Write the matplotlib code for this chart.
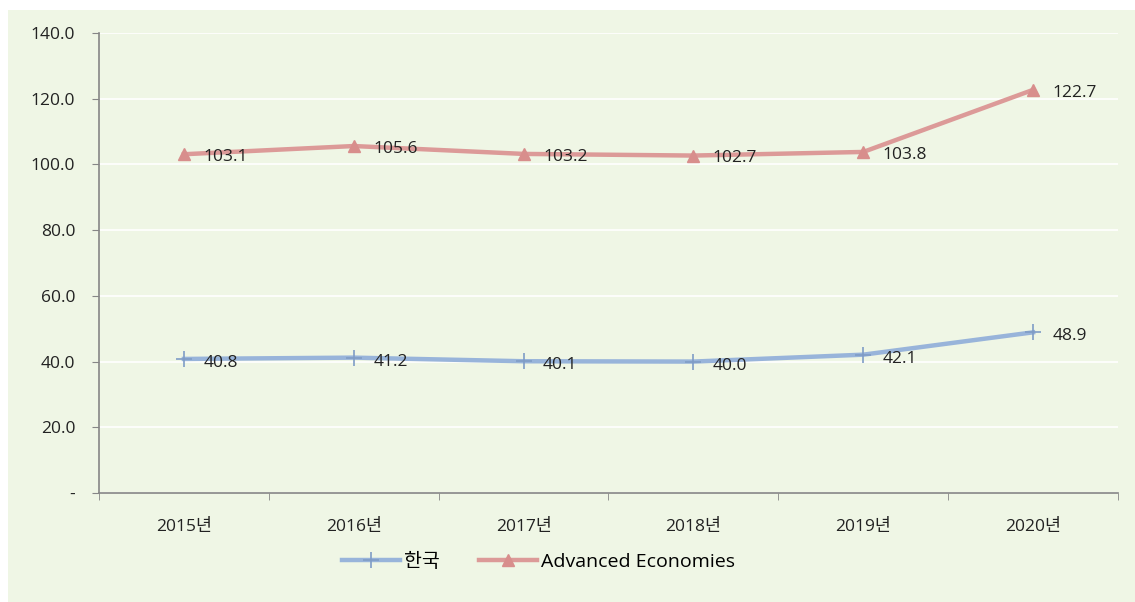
import matplotlib.pyplot as plt
from matplotlib.patches import Rectangle

plt.rcParams['font.family'] = ['Open Sans', 'Noto Sans CJK KR', 'DejaVu Sans']

# 데이터
years = ['2015년', '2016년', '2017년', '2018년', '2019년', '2020년']
korea = [40.8, 41.2, 40.1, 40.0, 42.1, 48.9]
advanced = [103.1, 105.6, 103.2, 102.7, 103.8, 122.7]
yticks = [0, 20, 40, 60, 80, 100, 120, 140]
ytick_labels = ['-', '20.0', '40.0', '60.0', '80.0', '100.0', '120.0', '140.0']

bg = '#eff6e5'
fig = plt.figure(figsize=(11.35, 6.02), dpi=100, facecolor='white')
fig.patches.append(Rectangle((8 / 1135, 0), 1, 1 - 10 / 602, transform=fig.transFigure,
                             facecolor=bg, edgecolor='none', zorder=-1))
ax = fig.add_axes([99 / 1135, 109 / 602, 1019 / 1135, 460 / 602])
ax.set_facecolor(bg)

x = list(range(len(years)))
ax.plot(x, korea, color='#98b4da', lw=3.2, marker='+', ms=11, mew=1.2,
        mec='#7f9cc6', label='한국', zorder=3)
ax.plot(x, advanced, color='#dc9a98', lw=3.2, marker='^', ms=9,
        mec='#d88e8c', mfc='#d88e8c', label='Advanced Economies', zorder=3)

for xi, v in zip(x, korea):
    ax.annotate(f'{v:.1f}', (xi, v), xytext=(14, -3), textcoords='offset points',
                ha='left', va='center', fontsize=12.5, color='#222222')
for xi, v in zip(x, advanced):
    ax.annotate(f'{v:.1f}', (xi, v), xytext=(14, -2), textcoords='offset points',
                ha='left', va='center', fontsize=12.5, color='#222222')

ax.set_xlim(-0.5, len(years) - 0.5)
ax.set_ylim(0, 140)
ax.set_yticks(yticks)
ax.set_yticklabels(ytick_labels)
ax.set_xticks(x)
ax.set_xticklabels(years)
ax.set_xticks([i - 0.5 for i in range(len(years) + 1)], minor=True)
ax.tick_params(axis='x', which='major', length=0, pad=19, labelsize=12.5, labelcolor='#222222')
ax.tick_params(axis='x', which='minor', length=5, color='#868686', direction='out')
ax.tick_params(axis='y', length=5, color='#868686', pad=12, labelsize=12.5, labelcolor='#222222')

ax.grid(axis='y', color='white', lw=1.2)
ax.set_axisbelow(True)
for s in ['top', 'right']:
    ax.spines[s].set_visible(False)
for s in ['left', 'bottom']:
    ax.spines[s].set_color('#868686')
    ax.spines[s].set_linewidth(1.2)

ax.legend(loc='center', bbox_to_anchor=(0.431, -0.15), ncol=2, frameon=False,
          fontsize=14, handlelength=3, columnspacing=2.0, handletextpad=0.2)

plt.savefig('out.png', dpi=100, facecolor='white')
